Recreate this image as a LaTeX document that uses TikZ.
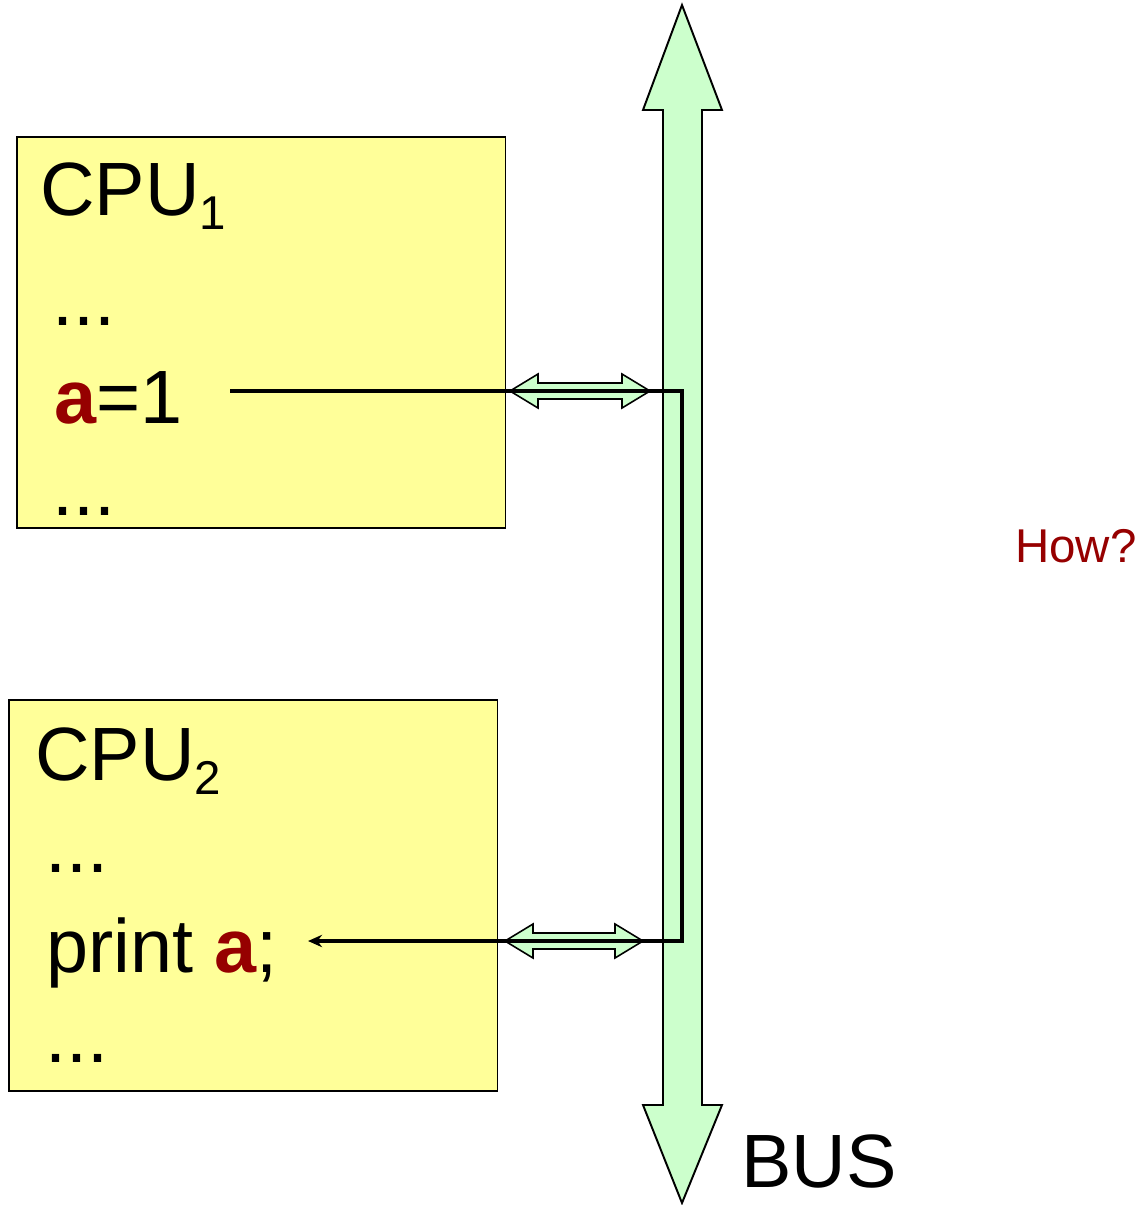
\documentclass[tikz,border=0pt]{standalone}
\usepackage{fontspec}
\setmainfont{Liberation Sans}
\usetikzlibrary{arrows.meta,positioning}
\definecolor{cpuyellow}{RGB}{255,255,153}
\definecolor{busgreen}{RGB}{204,255,204}
\definecolor{varred}{RGB}{150,0,0}

\newcommand{\vara}{\textbf{\textcolor{varred}{a}}}
\newcommand{\cpusub}[1]{\raisebox{-8.5pt}{\fontsize{27}{30}\selectfont #1}}
% small two-headed link arrow: left tip x, right tip x, y
\newcommand{\linkarrow}[3]{%
  \draw[link] (#1,#3) -- ++(28,-17) -- ++(0,9) -- ({#2-28},{#3-8}) -- ++(0,-9)
    -- (#2,#3) -- ({#2-28},{#3+17}) -- ++(0,-9) -- ({#1+28},{#3+8}) -- ++(0,9) -- cycle;}

\begin{document}
\begin{tikzpicture}[
	x=0.02cm, y=-0.02cm,
	font=\fontsize{43}{50}\selectfont,
	>={Stealth[length=8pt,width=7pt]},
	cpu/.style={draw=black, line width=0.9pt, fill=cpuyellow, anchor=north west, minimum width=9.78cm, minimum height=7.82cm, inner sep=0pt},
	txt/.style={anchor=base west, inner sep=0pt},
	bus/.style={draw=black, line width=1.1pt, fill=busgreen, line join=miter},
	link/.style={draw=black, line width=0.9pt, fill=busgreen, line join=miter},
	wire/.style={->, line width=2.3pt, line join=miter},
]
\useasboundingbox (0,0) rectangle (1141,1205);

% bus
\draw[bus] (682,5) -- (722,110) -- (702,110) -- (702,1105) -- (722,1105) -- (682,1203)
	-- (643,1105) -- (663,1105) -- (663,110) -- (643,110) -- cycle;
\node[txt] (busl) at (741,1187) {BUS};

% processors
\node[cpu] (cpu1) at (16,136) {};
\node[cpu] (cpu2) at (8,699) {};

\node[txt] (name1) at (40,215) {CPU\cpusub{1}};
\node[txt] (dots1a) at (52,325) {...};
\node[txt] (write) at (54,423) {\vara=1};
\node[txt] (dots1b) at (52,515) {...};

\node[txt] (name2) at (35,780) {CPU\cpusub{2}};
\node[txt] (dots2a) at (45,872) {...};
\node[txt] (read) at (46,972) {print \vara;};
\node[txt] (dots2b) at (45,1062) {...};

\node[txt, text=varred, font=\fontsize{27}{30}\selectfont] (how) at (1015,562) {How?};

% links to the bus
\linkarrow{510}{650}{391}
\linkarrow{505}{643}{941}

% path of the value
\coordinate (src) at (230,391);
\coordinate (turn) at (682,391);
\coordinate (dst) at (308,941);
\draw[wire] (src) -- (turn) |- (dst);
\end{tikzpicture}
\end{document}
